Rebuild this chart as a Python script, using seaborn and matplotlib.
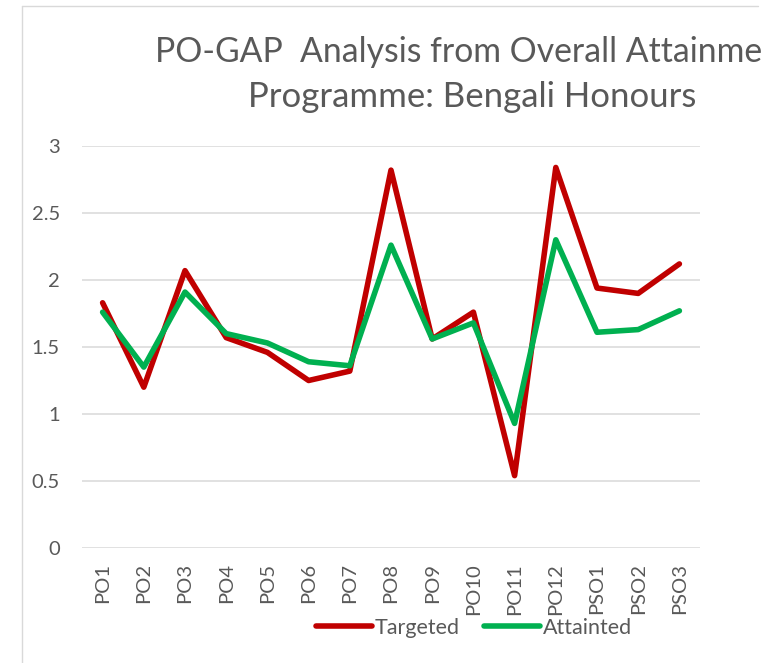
import matplotlib
matplotlib.use("Agg")
import matplotlib.pyplot as plt
import seaborn as sns
import pandas as pd
from matplotlib.lines import Line2D

categories = ["PO1", "PO2", "PO3", "PO4", "PO5", "PO6", "PO7", "PO8", "PO9",
              "PO10", "PO11", "PO12", "PSO1", "PSO2", "PSO3"]
targeted = [1.83, 1.20, 2.07, 1.57, 1.46, 1.25, 1.32, 2.82, 1.56,
            1.76, 0.54, 2.84, 1.94, 1.90, 2.12]
attainted = [1.76, 1.35, 1.91, 1.60, 1.53, 1.39, 1.36, 2.26, 1.56,
             1.68, 0.93, 2.30, 1.61, 1.63, 1.77]
y_ticks = [0, 0.5, 1, 1.5, 2, 2.5, 3]
y_tick_labels = ["0", "0.5", "1", "1.5", "2", "2.5", "3"]
series_names = ["Targeted", "Attainted"]
colors = ["#C00000", "#00B050"]
title_line1 = "PO-GAP  Analysis from Overall Attainme"
title_line2 = "Programme: Bengali Honours"

df = pd.DataFrame({
    "cat": categories * 2,
    "x": list(range(len(categories))) * 2,
    "value": targeted + attainted,
    "series": [series_names[0]] * len(categories) + [series_names[1]] * len(categories),
})

sns.set_style("white")
plt.rcParams["font.family"] = ["Lato", "DejaVu Sans"]
TXT = "#595959"
LW = 4.0

W, H = 782, 663
fig = plt.figure(figsize=(W / 100, H / 100), dpi=100)
ax = fig.add_axes([82 / W, 1 - 548 / H, (700 - 82) / W, (548 - 146) / H])

sns.lineplot(data=df, x="x", y="value", hue="series", palette=colors,
             linewidth=LW, ax=ax, legend=False, sort=False)
for ln in ax.get_lines():
    ln.set_solid_joinstyle("round")
    ln.set_solid_capstyle("round")

ax.set_xlim(-0.5, len(categories) - 0.5)
ax.set_ylim(0, 3)
ax.set_yticks(y_ticks)
ax.set_yticklabels(y_tick_labels)
ax.set_xticks(range(len(categories)))
ax.set_xticklabels(categories, rotation=90)
ax.set_xlabel("")
ax.set_ylabel("")
ax.grid(axis="y", color="#D9D9D9", linewidth=1.1)
ax.set_axisbelow(True)
for s in ax.spines.values():
    s.set_visible(False)
ax.tick_params(axis="y", length=0, labelsize=14.5, colors=TXT, pad=16)
ax.tick_params(axis="x", length=0, labelsize=14.5, colors=TXT, pad=11)

# legend
handles = [Line2D([], [], color=c, linewidth=LW, solid_capstyle="round") for c in colors]
leg = fig.legend(handles, series_names, loc="center", bbox_to_anchor=(474 / W, 1 - 628 / H),
                 ncol=2, frameon=False, fontsize=15.5, handlelength=2.6,
                 handletextpad=0.15, columnspacing=1.1, borderpad=0)
for t in leg.get_texts():
    t.set_color(TXT)

# title
fig.text(155 / W, 1 - 62 / H, title_line1,
         ha="left", va="baseline", fontsize=24.3, color=TXT)
fig.text(472 / W, 1 - 107 / H, title_line2,
         ha="center", va="baseline", fontsize=25, color=TXT)

# chart-area border
fig.add_artist(Line2D([22 / W, 22 / W], [0, 1 - 6 / H], transform=fig.transFigure,
                      color="#D9D9D9", linewidth=1))
fig.add_artist(Line2D([22 / W, 758 / W], [1 - 6 / H, 1 - 6 / H], transform=fig.transFigure,
                      color="#D9D9D9", linewidth=1))

fig.savefig("out.png", dpi=100)
